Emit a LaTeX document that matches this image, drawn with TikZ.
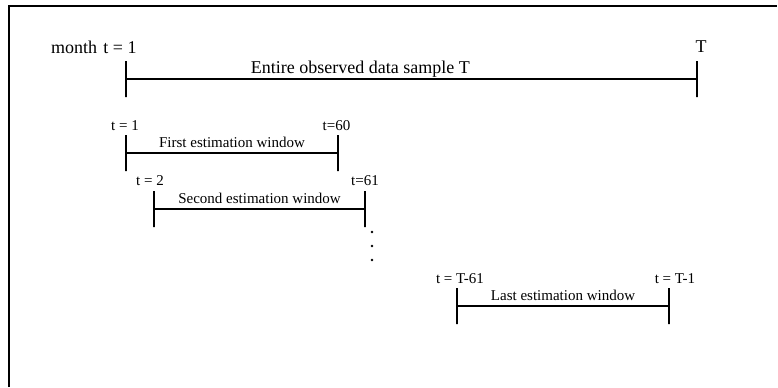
\documentclass[tikz,border=0pt]{standalone}
\usepackage{fontspec}
\setmainfont{Liberation Serif}
\usetikzlibrary{positioning}
\tikzset{
  frame/.style={line width=1.2pt},
  span/.style={line width=1.2pt},
  tick/.style={draw,line width=1.2pt,minimum height=18pt,minimum width=0pt,inner sep=0pt},
  blab/.style={font=\fontsize{9}{11}\selectfont,anchor=base,inner sep=0pt},
  slab/.style={font=\fontsize{7.5}{9}\selectfont,anchor=base,inner sep=0pt},
  every picture/.style={x=0.5pt,y=-0.5pt}
}
\begin{document}
\begin{tikzpicture}
  \useasboundingbox (0,0) rectangle (778,387);
  \draw[frame] (9,387) -- (9,6) -- (777,6);
  % whole sample
  \node[tick] (m0) at (126,79) {}; \node[tick] (m1) at (697,79) {};
  \draw[span] (m0) -- node[blab,pos=0.41,yshift=2.6pt] (mtxt) {Entire observed data sample T} (m1);
  \node[blab,anchor=base east] (mlab0) at (137,53) {month\hspace{0.35em}t = 1};
  \node[blab] (mlab1) at (701,52) {T};
  % first window
  \node[tick] (f0) at (126,153) {}; \node[tick] (f1) at (338,153) {};
  \draw[span] (f0) -- node[slab,midway,yshift=3pt] (ftxt) {First estimation window} (f1);
  \node[slab] (flab0) at (125,130) {t = 1}; \node[slab] (flab1) at (336.5,130) {t=60};
  % second window
  \node[tick] (s0) at (154,209) {}; \node[tick] (s1) at (365,209) {};
  \draw[span] (s0) -- node[slab,midway,yshift=3pt] (stxt) {Second estimation window} (s1);
  \node[slab] (slab0) at (150,185) {t = 2}; \node[slab] (slab1) at (365,185) {t=61};
  \foreach \y in {232,246,260} \fill (372,\y) circle (0.65pt);
  % last window
  \node[tick] (l0) at (457,306) {}; \node[tick] (l1) at (669,306) {};
  \draw[span] (l0) -- node[slab,midway,yshift=3pt] (ltxt) {Last estimation window} (l1);
  \node[slab] (llab0) at (460,283) {t = T-61}; \node[slab] (llab1) at (675,283) {t = T-1};
\end{tikzpicture}
\end{document}
